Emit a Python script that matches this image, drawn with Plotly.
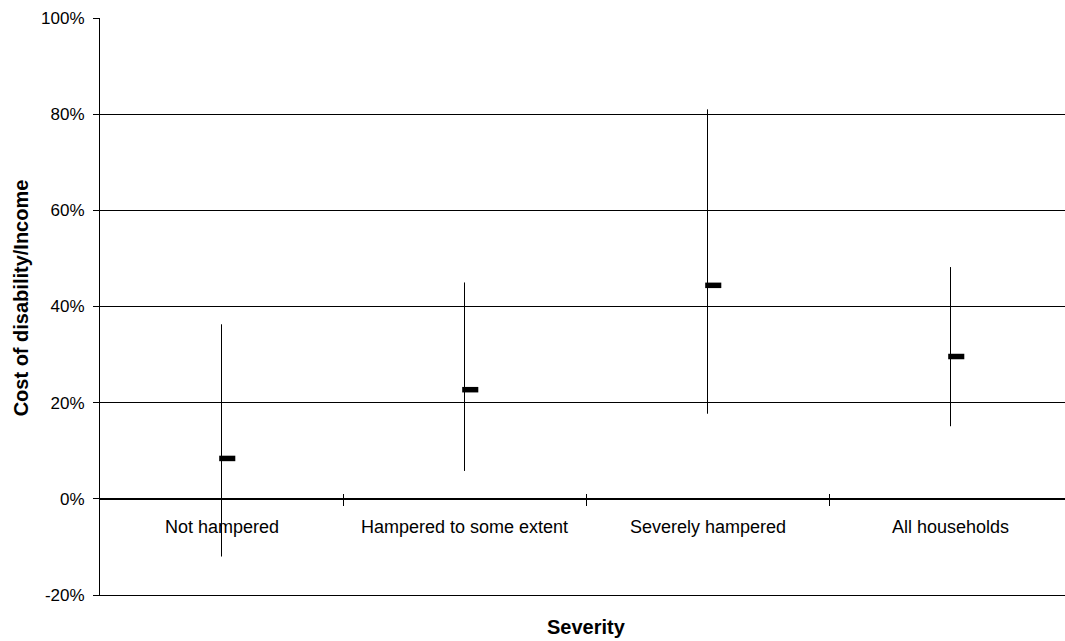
import plotly.graph_objects as go

categories = ["Not hampered", "Hampered to some extent", "Severely hampered", "All households"]
high_vals = [0.363, 0.450, 0.810, 0.482]
low_vals = [-0.120, 0.058, 0.177, 0.151]
mean_vals = [0.084, 0.227, 0.444, 0.296]
y_tickvals = [-0.2, 0.0, 0.2, 0.4, 0.6, 0.8, 1.0]
y_ticktext = [f"{round(v * 100)}%" for v in y_tickvals]

FONT = "Liberation Sans, Arial, sans-serif"
W, H = 1065, 641
ML, MR, MT, MB = 100, 0, 18, 46
CAT_PX = 243.0
plot_w = W - ML - MR
x_range = [-0.5, -0.5 + plot_w / CAT_PX]
y_range = [-0.2, 1.0]
dash_len, dash_thk = 11.5, 5.5
dash_off = (dash_len / 2) / CAT_PX

n = len(categories)
idx = list(range(n))
bounds = [i + 0.5 for i in range(n - 1)]

vx, vy = [], []
for i, lo, hi in zip(idx, low_vals, high_vals):
    vx += [i, i, None]
    vy += [lo, hi, None]

fig = go.Figure()
fig.add_trace(go.Scatter(x=vx, y=vy, mode="lines", line=dict(color="black", width=1),
                         hoverinfo="skip", showlegend=False))
fig.add_trace(go.Scatter(x=[i + dash_off for i in idx], y=mean_vals, mode="markers",
                         marker=dict(symbol="line-ew", size=dash_len,
                                     line=dict(color="black", width=dash_thk)),
                         hoverinfo="skip", showlegend=False))
fig.add_trace(go.Scatter(x=[None], y=[None], xaxis="x2", showlegend=False, hoverinfo="skip"))
fig.add_trace(go.Scatter(x=[None], y=[None], xaxis="x3", showlegend=False, hoverinfo="skip"))

zero_pos = (0 - y_range[0]) / (y_range[1] - y_range[0])

fig.update_layout(
    width=W, height=H,
    margin=dict(l=ML, r=MR, t=MT, b=MB, autoexpand=False),
    paper_bgcolor="white", plot_bgcolor="white",
    font=dict(family=FONT, size=18, color="black"),
    xaxis=dict(range=x_range, anchor="free", position=zero_pos,
               showline=True, linecolor="black", linewidth=1,
               tickmode="array", tickvals=bounds, showticklabels=False,
               ticks="outside", ticklen=6, tickcolor="black", tickwidth=1,
               showgrid=False, zeroline=False),
    xaxis2=dict(range=x_range, overlaying="x", anchor="free", position=zero_pos,
                showline=False, tickmode="array", tickvals=bounds, showticklabels=False,
                ticks="inside", ticklen=5, tickcolor="black", tickwidth=1,
                showgrid=False, zeroline=False),
    xaxis3=dict(range=x_range, overlaying="x", anchor="y", side="bottom",
                showline=True, linecolor="black", linewidth=1,
                showticklabels=False, ticks="", showgrid=False, zeroline=False),
    yaxis=dict(range=y_range, tickmode="array", tickvals=y_tickvals, ticktext=y_ticktext,
               showgrid=True, gridcolor="black", gridwidth=1,
               showline=True, linecolor="black", linewidth=1,
               ticks="outside", ticklen=6, tickcolor="black",
               zeroline=False, ticklabelstandoff=5,
               tickfont=dict(family=FONT, size=17, color="black")),
)

annotations = []
for i, c in zip(idx, categories):
    annotations.append(dict(x=i, y=0, xref="x", yref="y", text=c, showarrow=False,
                            xanchor="center", yanchor="middle", yshift=-28,
                            font=dict(family=FONT, size=18, color="black")))
annotations.append(dict(x=(n - 1) / 2, y=0, xref="x", yref="paper", text="<b>Severity</b>",
                        showarrow=False, xanchor="center", yanchor="middle", yshift=-32,
                        font=dict(family=FONT, size=20, color="black")))
annotations.append(dict(x=0, y=0.515, xref="paper", yref="paper",
                        text="<b>Cost of disability/Income</b>", textangle=-90,
                        showarrow=False, xanchor="center", yanchor="middle", xshift=-79.5,
                        font=dict(family=FONT, size=20, color="black")))
fig.update_layout(annotations=annotations)

fig.write_html("out.html", config={"displayModeBar": False},
               post_script="document.body.style.margin='0';document.body.style.overflow='hidden';")
